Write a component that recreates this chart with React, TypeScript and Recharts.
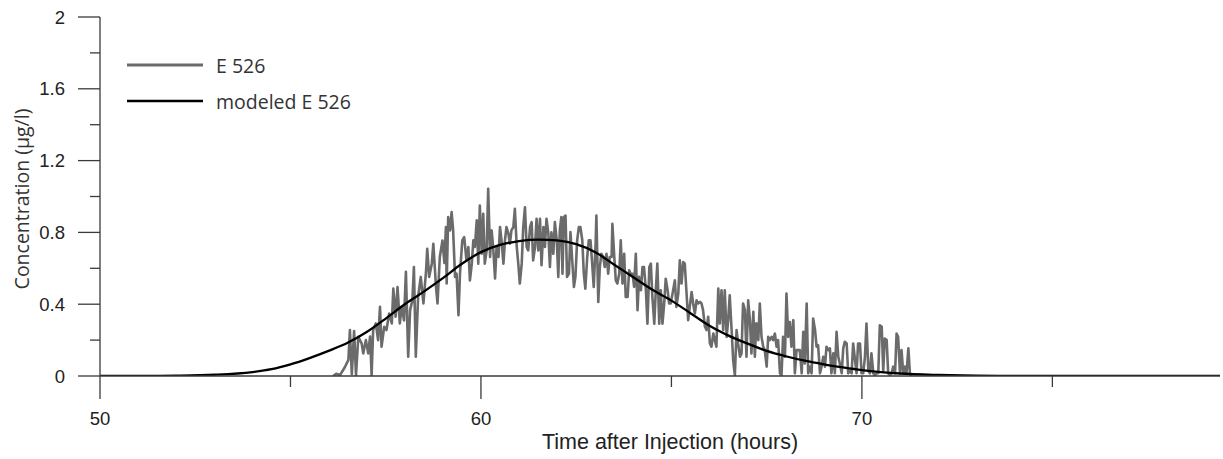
import React from 'react';
import { LineChart, Line, XAxis, YAxis, Legend } from 'recharts';

// Measured series "E 526" (hours, µg/l)
const e526Hours = [
  56.12, 56.2, 56.3, 56.43, 56.52, 56.56, 56.61, 56.67, 56.72, 56.78, 56.87, 56.91, 56.98, 57.04, 57.09, 57.13, 57.17, 57.24, 57.3, 57.35,
  57.39, 57.46, 57.52, 57.59, 57.66, 57.7, 57.76, 57.81, 57.87, 57.92, 57.98, 58.03, 58.09, 58.14, 58.2, 58.24, 58.29, 58.35, 58.42, 58.49,
  58.56, 58.59, 58.64, 58.71, 58.75, 58.82, 58.86, 58.92, 58.99, 59.04,
  59.08, 59.1, 59.14, 59.19, 59.23, 59.27, 59.32, 59.36, 59.41, 59.45, 59.51, 59.56, 59.62, 59.67, 59.71, 59.76, 59.8, 59.84, 59.89, 59.93,
  59.97, 60.02, 60.06, 60.1, 60.15, 60.19, 60.24, 60.28, 60.32, 60.37, 60.41, 60.46, 60.5, 60.54, 60.59, 60.63, 60.67, 60.72, 60.76, 60.8,
  60.85, 60.89, 60.94, 60.98, 61.02, 61.07, 61.11, 61.155, 61.2, 61.24, 61.29, 61.33, 61.37, 61.42, 61.46, 61.505, 61.55, 61.59, 61.64, 61.68,
  61.72, 61.77, 61.81, 61.85, 61.9, 61.94, 61.99, 62.03, 62.07, 62.11,
  62.14, 62.175, 62.22, 62.26, 62.31, 62.35, 62.39, 62.44, 62.48, 62.525, 62.57, 62.61, 62.66, 62.7, 62.74, 62.79, 62.83, 62.875, 62.92, 62.96,
  63.01, 63.03, 63.08, 63.12, 63.16, 63.21, 63.25, 63.295, 63.34, 63.38, 63.43, 63.45, 63.5, 63.54, 63.58, 63.63, 63.67, 63.715, 63.76, 63.8,
  63.85, 63.89, 63.93, 63.98, 64.02, 64.065, 64.11, 64.15, 64.2, 64.24, 64.28, 64.33, 64.37, 64.42, 64.46, 64.5, 64.55, 64.59, 64.63, 64.68,
  64.72, 64.765, 64.81, 64.85, 64.9, 64.94, 64.98, 65.03,
  65.09, 65.13, 65.18, 65.22, 65.265, 65.31, 65.35, 65.4, 65.44, 65.48, 65.53, 65.57, 65.615, 65.66, 65.7, 65.75, 65.79, 65.83, 65.88, 65.92,
  65.965, 66.01, 66.05, 66.1, 66.14, 66.18, 66.23, 66.27, 66.315, 66.36, 66.4, 66.45, 66.49, 66.53, 66.58, 66.62, 66.665, 66.71, 66.75, 66.8,
  66.84, 66.88, 66.93, 66.97, 67.015, 67.06, 67.1, 67.15, 67.19, 67.23, 67.28, 67.32, 67.365, 67.41, 67.45, 67.5, 67.54, 67.58, 67.63, 67.67,
  67.715, 67.76, 67.8, 67.85, 67.89, 67.93, 67.98, 68.02, 68.065, 68.11, 68.15,
  68.2, 68.24, 68.285, 68.33, 68.37, 68.42, 68.46, 68.5, 68.55, 68.59, 68.635, 68.68, 68.72, 68.77, 68.81, 68.85, 68.9, 68.94, 68.985, 69.03,
  69.07, 69.12, 69.16, 69.2, 69.25, 69.29, 69.335, 69.38, 69.42, 69.47, 69.51, 69.55, 69.6, 69.64, 69.685, 69.73, 69.77, 69.82, 69.86, 69.9,
  69.95, 69.99, 70.035, 70.08, 70.12, 70.17, 70.21, 70.25, 70.3, 70.34, 70.385, 70.43, 70.47, 70.52, 70.56, 70.6, 70.65, 70.69, 70.735, 70.78,
  70.82, 70.87, 70.91, 70.95, 71.0, 71.04, 71.085, 71.13, 71.17, 71.22, 71.26, 71.3,
];
const e526Values = [
  0, 0.012, 0.005, 0.05, 0.09, 0.256, 0.01, 0.25, 0.005, 0.218, 0.18, 0.126, 0.2, 0.126, 0.22, 0.005, 0.256, 0.293, 0.2, 0.385,
  0.163, 0.274, 0.256, 0.348, 0.293, 0.487, 0.33, 0.496, 0.293, 0.385, 0.31, 0.58, 0.107, 0.367, 0.42, 0.607, 0.107, 0.44, 0.552, 0.404,
  0.589, 0.709, 0.552, 0.626, 0.737, 0.496, 0.404, 0.663, 0.755, 0.63,
  0.83, 0.515, 0.885, 0.811, 0.913, 0.811, 0.552, 0.57, 0.339, 0.57, 0.756, 0.774, 0.644, 0.719, 0.533, 0.626, 0.756, 0.719, 0.867, 0.626,
  0.95, 0.681, 0.904, 0.626, 0.7, 1.043, 0.663, 0.811, 0.719, 0.543, 0.719, 0.663, 0.83, 0.756, 0.626, 0.756, 0.83, 0.793, 0.737, 0.811,
  0.83, 0.931, 0.719, 0.626, 0.515, 0.626, 0.83, 0.94, 0.719, 0.7, 0.83, 0.857, 0.644, 0.719, 0.876, 0.7, 0.876, 0.617, 0.83, 0.719,
  0.876, 0.793, 0.607, 0.8, 0.681, 0.857, 0.756, 0.552, 0.811, 0.885,
  0.57, 0.885, 0.894, 0.552, 0.57, 0.802, 0.663, 0.496, 0.552, 0.756, 0.83, 0.83, 0.756, 0.57, 0.487, 0.663, 0.756, 0.756, 0.626, 0.496,
  0.737, 0.894, 0.413, 0.607, 0.681, 0.663, 0.607, 0.681, 0.57, 0.663, 0.663, 0.848, 0.663, 0.533, 0.515, 0.57, 0.756, 0.515, 0.681, 0.441,
  0.441, 0.589, 0.57, 0.57, 0.496, 0.681, 0.367, 0.552, 0.478, 0.607, 0.607, 0.478, 0.292, 0.607, 0.626, 0.441, 0.292, 0.478, 0.626, 0.292,
  0.478, 0.292, 0.404, 0.542, 0.478, 0.404, 0.404, 0.459,
  0.533, 0.385, 0.459, 0.644, 0.515, 0.635, 0.626, 0.45, 0.311, 0.385, 0.468, 0.404, 0.348, 0.422, 0.404, 0.413, 0.404, 0.367, 0.274, 0.256,
  0.33, 0.181, 0.163, 0.237, 0.2, 0.163, 0.487, 0.293, 0.478, 0.256, 0.478, 0.218, 0.311, 0.45, 0.256, 0.089, 0.005, 0.256, 0.181, 0.107,
  0.126, 0.404, 0.367, 0.107, 0.422, 0.311, 0.126, 0.357, 0.107, 0.293, 0.2, 0.404, 0.218, 0.163, 0.144, 0.052, 0.218, 0.2, 0.218, 0.2,
  0.237, 0.163, 0.2, 0.015, 0.005, 0.218, 0.107, 0.459, 0.218, 0.3, 0.163,
  0.311, 0.015, 0.144, 0.144, 0.144, 0.015, 0.246, 0.07, 0.404, 0.015, 0.052, 0.015, 0.32, 0.256, 0.163, 0.172, 0.015, 0.052, 0.107, 0.052,
  0.163, 0.144, 0.154, 0.015, 0.126, 0.015, 0.246, 0.107, 0.07, 0.015, 0.154, 0.191, 0.181, 0.015, 0.028, 0.015, 0.181, 0.089, 0.015, 0.181,
  0.181, 0.015, 0.015, 0.107, 0.292, 0.028, 0.015, 0.126, 0.015, 0.005, 0.015, 0.015, 0.283, 0.274, 0.028, 0.209, 0.2, 0.015, 0.005, 0.015,
  0.052, 0.015, 0.237, 0.219, 0.015, 0.144, 0.015, 0.052, 0.015, 0.154, 0.015, 0,
];

// Modeled series "modeled E 526"
const modeledHours = [
  50, 51, 52, 53, 54, 54.5, 55, 55.5, 56, 56.5, 57, 57.5, 58, 58.5, 59, 59.5, 60, 60.5, 61, 61.5,
  62, 62.5, 63, 63.5, 64, 64.5, 65, 65.5, 66, 66.5, 67, 67.5, 68, 68.5, 69, 69.5, 70, 70.5, 71, 72,
  73, 74, 75, 79.4,
];
const modeledValues = [
  0, 0.0005, 0.002, 0.007, 0.022, 0.038, 0.065, 0.1, 0.14, 0.185, 0.245, 0.32, 0.4, 0.47, 0.545, 0.625, 0.69, 0.73, 0.752, 0.76,
  0.755, 0.735, 0.69, 0.62, 0.55, 0.48, 0.42, 0.35, 0.28, 0.225, 0.18, 0.14, 0.11, 0.085, 0.065, 0.048, 0.033, 0.022, 0.014, 0.006,
  0.002, 0.0005, 0, 0,
];

const xTickValues = [50, 55, 60, 65, 70, 75];
const xLabelValues = [50, 60, 70];
const yTickValues = [0, 0.2, 0.4, 0.6, 0.8, 1, 1.2, 1.4, 1.6, 1.8, 2];
const yLabelValues = [0, 0.4, 0.8, 1.2, 1.6, 2];

const seriesNames = ['E 526', 'modeled E 526'];
const xTitle = 'Time after Injection (hours)';
const yTitle = 'Concentration (µg/l)';

const e526Data = e526Hours.map((h, i) => ({ h, v: e526Values[i] }));
const modeledData = modeledHours.map((h, i) => ({ h, v: modeledValues[i] }));

const GRAY = '#6b6b6b';
const AXIS = '#3a3a3a';
const TICK_FONT = '"Liberation Sans", Arial, sans-serif';
const TEXT_FONT = '"Open Sans", "Noto Sans", sans-serif';

const XTick = (props: any) => {
  const { x, y, payload } = props;
  const major = xLabelValues.includes(payload.value);
  return (
    <g>
      <line x1={x} y1={y} x2={x} y2={y + (major ? 23 : 11)} stroke={AXIS} strokeWidth={1.3} />
      {major && (
        <text x={x} y={y + 42} textAnchor="middle" dominantBaseline="central" fontFamily={TICK_FONT} fontSize={18.5} fill="#222">
          {payload.value}
        </text>
      )}
    </g>
  );
};

const YTick = (props: any) => {
  const { x, y, payload } = props;
  const major = yLabelValues.some((m) => Math.abs(m - payload.value) < 1e-9);
  return (
    <g>
      <line x1={x - (major ? 22 : 10)} y1={y} x2={x} y2={y} stroke={AXIS} strokeWidth={1.3} />
      {major && (
        <text x={x - 35} y={y} textAnchor="end" dominantBaseline="central" fontFamily={TICK_FONT} fontSize={18.5} fill="#222">
          {String(payload.value)}
        </text>
      )}
    </g>
  );
};

const XTitle = (props: any) => {
  const vb = props.viewBox || {};
  return (
    <text x={vb.x + vb.width / 2 + 10} y={449} textAnchor="middle" fontFamily={TICK_FONT} fontSize={21.5} fill="#222">
      {xTitle}
    </text>
  );
};

const YTitle = (props: any) => {
  const vb = props.viewBox || {};
  const cy = 199;
  return (
    <text x={21} y={cy} textAnchor="middle" dominantBaseline="central" transform={`rotate(-90, 21, ${cy})`} fontFamily={TEXT_FONT} fontSize={19.5} fill="#333">
      {yTitle}
    </text>
  );
};

const renderLegend = () => (
  <svg width={260} height={70} style={{ display: 'block' }}>
    <line x1={7} y1={15} x2={83} y2={15} stroke={GRAY} strokeWidth={3} />
    <text x={96} y={15} dominantBaseline="central" fontFamily={TEXT_FONT} fontSize={19.5} fill="#333">{seriesNames[0]}</text>
    <line x1={7} y1={51} x2={83} y2={51} stroke="#000" strokeWidth={2.5} />
    <text x={96} y={51} dominantBaseline="central" fontFamily={TEXT_FONT} fontSize={19.5} fill="#333">{seriesNames[1]}</text>
  </svg>
);

export default function App() {
  return (
    <div style={{ position: 'absolute', left: 0, top: 0, width: 1223, height: 459, background: '#fff' }}>
      <LineChart width={1223} height={459} margin={{ top: 17, right: 3, bottom: 0, left: 0 }}>
        <XAxis
          type="number"
          dataKey="h"
          domain={[50, 79.4]}
          ticks={xTickValues}
          allowDataOverflow
          height={83}
          tickSize={0}
          tickMargin={0}
          tickLine={false}
          axisLine={{ stroke: AXIS, strokeWidth: 1.3 }}
          tick={<XTick />}
          interval={0}
          label={<XTitle />}
        />
        <YAxis
          type="number"
          dataKey="v"
          domain={[0, 2]}
          ticks={yTickValues}
          allowDataOverflow
          width={100}
          tickSize={0}
          tickMargin={0}
          tickLine={false}
          axisLine={{ stroke: AXIS, strokeWidth: 1.3 }}
          tick={<YTick />}
          interval={0}
          label={<YTitle />}
        />
        <Legend
          layout="vertical"
          align="center"
          verticalAlign="middle"
          wrapperStyle={{ left: 120, top: 50, width: 260 }}
          content={renderLegend}
        />
        <Line
          data={e526Data}
          dataKey="v"
          name={seriesNames[0]}
          type="linear"
          stroke={GRAY}
          strokeWidth={2.6}
          strokeLinejoin="round"
          dot={false}
          activeDot={false}
          isAnimationActive={false}
        />
        <Line
          data={modeledData}
          dataKey="v"
          name={seriesNames[1]}
          type="monotone"
          stroke="#000"
          strokeWidth={2.3}
          dot={false}
          activeDot={false}
          isAnimationActive={false}
        />
      </LineChart>
    </div>
  );
}
